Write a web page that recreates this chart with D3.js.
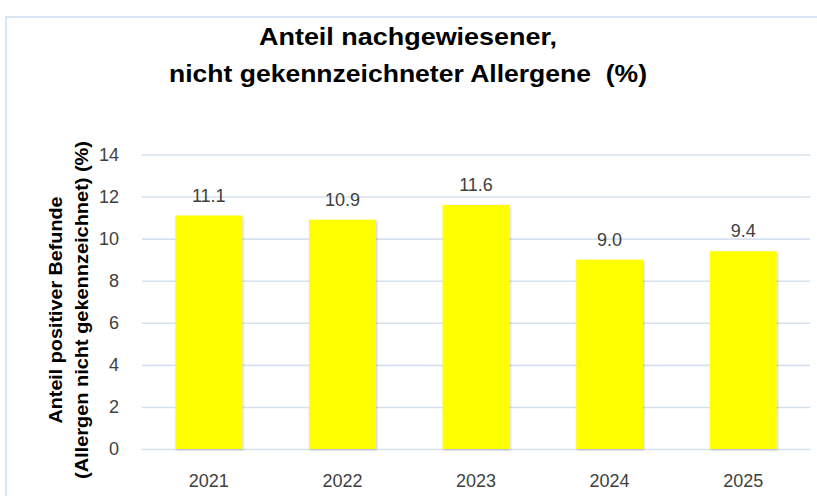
<!DOCTYPE html>
<html><head><meta charset="utf-8">
<script src="https://cdn.jsdelivr.net/npm/d3@7"></script>
<style>body{margin:0;background:#fff;} svg{display:block;}</style>
</head><body>
<svg id="c" width="817" height="496"></svg>
<script>
const categories = ["2021","2022","2023","2024","2025"];
const values = [11.1, 10.9, 11.6, 9.0, 9.4];
const valueLabels = ["11.1","10.9","11.6","9.0","9.4"];
const yTicks = [0,2,4,6,8,10,12,14];
const titleLines = ["Anteil nachgewiesener,", "nicht gekennzeichneter Allergene  (%)"];
const yTitleLines = ["Anteil positiver Befunde", "(Allergen nicht gekennzeichnet) (%)"];

const svg = d3.select("#c");
const W = 817, H = 496;
const m = {left:142, right:7, top:154.5, bottom:47};
const x = d3.scaleBand().domain(categories).range([m.left, W - m.right]).paddingInner(0.5).paddingOuter(0.25);
const y = d3.scaleLinear().domain([0,14]).range([H - m.bottom, m.top]);
const FONT = "Liberation Sans, Arial, sans-serif";

const defs = svg.append("defs");
const f = defs.append("filter").attr("id","sh").attr("x","-20%").attr("y","-20%").attr("width","140%").attr("height","140%");
f.append("feDropShadow").attr("dx",1).attr("dy",1).attr("stdDeviation",1.2).attr("flood-color","#000").attr("flood-opacity",0.22);

// border
svg.append("rect").attr("x",6).attr("y",17).attr("width",W).attr("height",H).attr("fill","none").attr("stroke","#dae6f3").attr("stroke-width",2);

// grid + y ticks
const yAxis = d3.axisLeft(y).tickValues(yTicks).tickSize(-(W - m.right - m.left)).tickPadding(23).tickFormat(d3.format("d"));
const ga = svg.append("g").attr("transform",`translate(${m.left},0)`).call(yAxis);
ga.select(".domain").remove();
ga.selectAll(".tick line").attr("stroke","#d5e1ef").attr("stroke-width",1.6);
ga.selectAll(".tick text").attr("fill","#404040").style("font-family",FONT).style("font-size","18px");

// bars
svg.append("g").selectAll("rect").data(values).join("rect")
  .attr("x",(d,i)=>x(categories[i])).attr("width",x.bandwidth())
  .attr("y",d=>y(d)).attr("height",d=>y(0)-y(d))
  .attr("fill","#ffff00").attr("filter","url(#sh)");

// value labels
svg.append("g").selectAll("text").data(values).join("text")
  .attr("x",(d,i)=>x(categories[i])+x.bandwidth()/2).attr("y",d=>y(d)-14)
  .attr("text-anchor","middle").attr("fill","#404040")
  .style("font-family",FONT).style("font-size","18px")
  .text((d,i)=>valueLabels[i]);

// x axis labels
const xAxis = d3.axisBottom(x).tickSize(0).tickPadding(25);
const gx = svg.append("g").attr("transform",`translate(0,${y(0)})`).call(xAxis);
gx.select(".domain").remove();
gx.selectAll(".tick text").attr("fill","#404040").style("font-family",FONT).style("font-size","18px");

// title
const titleLens = [298, 478];
svg.append("g").selectAll("text").data(titleLines).join("text")
  .attr("x",408).attr("y",(d,i)=>45+i*37).attr("text-anchor","middle")
  .attr("fill","#000").style("font-family",FONT)
  .style("font-weight","bold").style("font-size","24px")
  .attr("textLength",(d,i)=>titleLens[i]).attr("lengthAdjust","spacingAndGlyphs")
  .style("white-space","pre").text(d=>d);

// y title
const yTitleLens = [227, 338];
svg.append("g").attr("transform","translate(0,310) rotate(-90)").selectAll("text").data(yTitleLines).join("text")
  .attr("x",0).attr("y",(d,i)=>62+i*26).attr("text-anchor","middle").attr("fill","#000")
  .style("font-family",FONT)
  .attr("textLength",(d,i)=>yTitleLens[i]).attr("lengthAdjust","spacingAndGlyphs")
  .style("font-weight","bold").style("font-size","18px").text(d=>d);
</script>
</body></html>
